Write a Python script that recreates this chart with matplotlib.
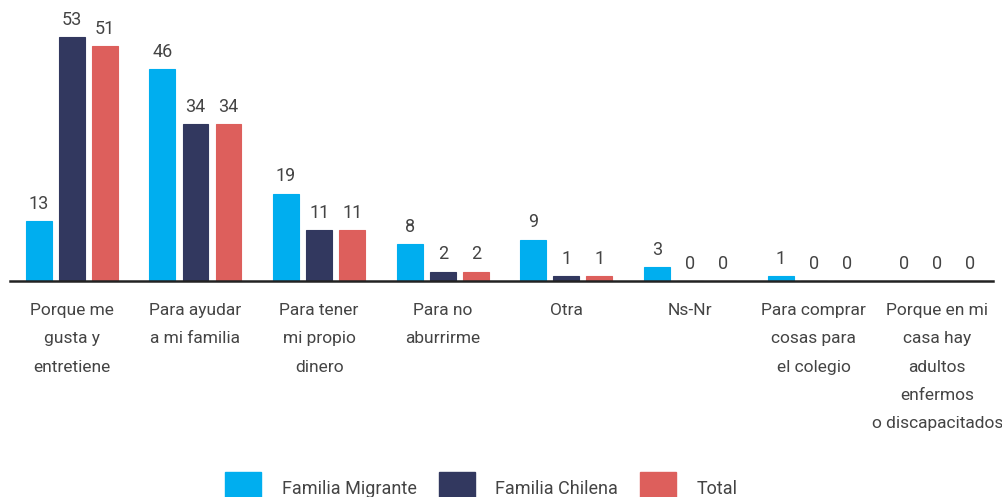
import numpy as np
import matplotlib
matplotlib.use("Agg")
import matplotlib.pyplot as plt
from matplotlib.patches import Patch

categories = [
    "Porque me\ngusta y\nentretiene",
    "Para ayudar\na mi familia",
    "Para tener\nmi propio\ndinero",
    "Para no\naburrirme",
    "Otra",
    "Ns-Nr",
    "Para comprar\ncosas para\nel colegio",
    "Porque en mi\ncasa hay\nadultos\nenfermos\no discapacitados",
]
migrante = [13, 46, 19, 8, 9, 3, 1, 0]
chilena = [53, 34, 11, 2, 1, 0, 0, 0]
total = [51, 34, 11, 2, 1, 0, 0, 0]
series_names = ["Familia Migrante", "Familia Chilena", "Total"]
colors = ["#00AEEF", "#32385F", "#DD5F5C"]

plt.rcParams['font.family'] = ['Roboto', 'DejaVu Sans']
text_color = "#444444"

fig = plt.figure(figsize=(10.03, 4.97), dpi=100)
ax = fig.add_axes([0.01, 0.4346, 0.98, 0.5372])

x = np.arange(len(categories))
width = 0.21
offset = 0.267
for i, (vals, col) in enumerate(zip([migrante, chilena, total], colors)):
    pos = x + (i - 1) * offset
    bars = ax.bar(pos, vals, width=width, color=col, edgecolor=col,
                  linewidth=0.8, zorder=2)
    for b, v in zip(bars, vals):
        ax.annotate(str(v), (b.get_x() + b.get_width() / 2, v),
                    xytext=(0, 6), textcoords="offset points",
                    ha="center", va="bottom", fontsize=13,
                    color=text_color)

ax.set_xlim(-0.5, 7.45)
ax.set_ylim(0, 58)
for s in ["top", "right", "left"]:
    ax.spines[s].set_visible(False)
ax.spines["bottom"].set_linewidth(1.8)
ax.spines["bottom"].set_color("#222222")
ax.spines["bottom"].set_zorder(3)
ax.set_yticks([])
ax.set_xticks(x)
ax.set_xticklabels(categories, fontsize=12.5, color=text_color,
                   linespacing=2.1, va="top")
ax.tick_params(axis="x", length=0, pad=16)

handles = [Patch(facecolor=c, edgecolor=c) for c in colors]
fig.legend(handles, series_names, loc="lower center", ncol=3,
           bbox_to_anchor=(0.48, -0.05), frameon=False, fontsize=13,
           handlelength=2.0, handleheight=2.5, columnspacing=1.2,
           handletextpad=1.15, labelcolor=text_color)

fig.savefig("out.png", dpi=100)
